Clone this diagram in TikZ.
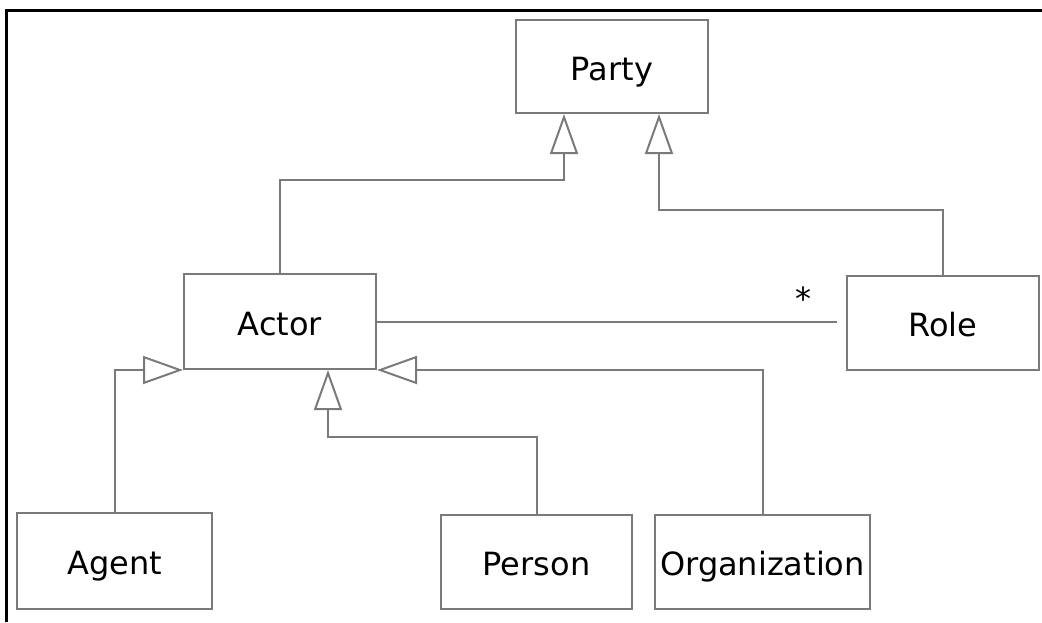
\documentclass[tikz,border=0pt]{standalone}
\usepackage{fontspec}
\setmainfont{DejaVu Sans}
\usetikzlibrary{arrows.meta}
\definecolor{umlgray}{RGB}{122,122,122}
\begin{document}
\begin{tikzpicture}[x=1pt,y=-1pt,
  lbl/.style={font=\fontsize{32}{38}\selectfont},
  cls/.style={lbl, draw=umlgray, line width=2pt, fill=white, rectangle, inner sep=0pt,
    minimum width=192pt, minimum height=94pt, text height=27pt, text depth=0pt},
  conn/.style={draw=umlgray, line width=2pt},
  gen/.style={conn, -{Triangle[open, length=40pt, width=28pt]}}]
\useasboundingbox (0,0) rectangle (1042,622);
% frame on the top and left edges
\draw[line width=3pt, black] (6.5,622) -- (6.5,10) -- (1042,10);

% classes
\node[cls, minimum height=93pt] (party) at (612,66.5) {Party};
\node[cls, minimum height=95pt] (actor) at (280,321.5) {Actor};
\node[cls] (role) at (943,323) {Role};
\node[cls, minimum width=195pt, minimum height=96pt] (agent) at (114.5,561) {Agent};
\node[cls, minimum width=191pt] (person) at (536.5,562) {Person};
\node[cls, minimum width=215pt] (org) at (762.5,562) {Organization};

% bend points of the generalisation lines
\coordinate (ja) at (564,180);
\coordinate (jr) at (659,210);
\coordinate (jp) at (328,437);

% generalisations
\draw[gen] (actor.north) |- (ja) -- (ja |- party.south);
\draw[gen] (role.north) |- (jr) -- (jr |- party.south);
\draw[gen] (agent.north) |- (actor.south west);
\draw[gen] (person.north) |- (jp) -- (jp |- actor.south);
\draw[gen] (org.north) |- (actor.south east);

% association Actor -- Role with its multiplicity
\draw[conn, shorten >=9pt] (actor.east) -- (actor.east -| role.west);
\node[lbl, anchor=base, inner sep=0pt] (mult) at (803,310) {*};
\end{tikzpicture}
\end{document}
